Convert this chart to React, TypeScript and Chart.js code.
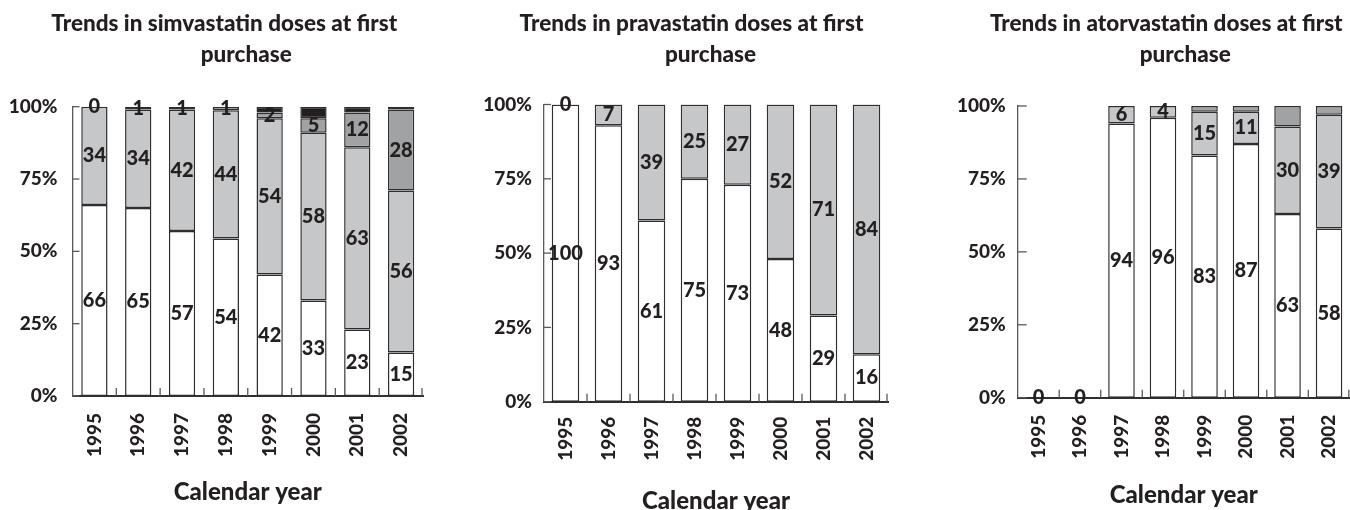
import React, { useEffect, useRef } from "react";
import { Chart, registerables } from "chart.js";

Chart.register(...registerables);

// ---------- data ----------
const years = ["1995", "1996", "1997", "1998", "1999", "2000", "2001", "2002"];
const yTickValues = [0, 25, 50, 75, 100];

// Simvastatin (bottom -> top)
const simWhite = [66, 65, 57, 54.4, 42, 33, 23, 15];
const simLight = [34, 34, 42, 44.4, 54, 58, 63, 56];
const simDark = [0, 1, 1, 1.2, 2, 5, 12, 28];
const simBlack = [0, 0, 0, 0, 2, 4, 2, 1];

// Pravastatin
const pravWhite = [100, 93, 61, 75, 73, 48, 29, 16];
const pravLight = [0, 7, 39, 25, 27, 52, 71, 84];

// Atorvastatin
const atorWhite = [0, 0, 94, 96, 83, 87, 63, 58];
const atorLight = [null, null, 6, 4, 15, 11, 30, 39];
const atorDark = [null, null, 0, 0, 2, 2, 7, 3];

const titles = [
  ["Trends in simvastatin doses at first", "purchase"],
  ["Trends in pravastatin doses at first", "purchase"],
  ["Trends in atorvastatin doses at first", "purchase"],
];
const xAxisTitle = "Calendar year";

// ---------- styles ----------
const WHITE = "#ffffff";
const LIGHT = "#c6c7c9";
const DARK = "#a1a2a4";
const BLACK = "#231f20";
const INK = "#231f20";
const EDGE = "#2e2e30";
const FONT = "Lato";
const WEIGHT = "900";

type Series = { data: (number | null)[]; color: string; showLabel: boolean };

type PanelCfg = {
  left: number;
  width: number;
  yw: number;
  pr: number;
  pt: number;
  xh: number;
  yTickPad: number;
  xTickPad: number;
  xTitlePad: number;
  yTickLen: number;
  barPct: number;
  dx1: number;
  dx2: number;
  title: string[];
  series: Series[];
};

const panels: PanelCfg[] = [
  {
    left: 0, width: 445, yw: 72.5, pr: 22, pt: 106.7, xh: 114,
    yTickPad: 15, xTickPad: 17, xTitlePad: 5.5, yTickLen: 7, barPct: 0.6,
    dx1: -23.5, dx2: -1.5, title: titles[0],
    series: [
      { data: simWhite, color: WHITE, showLabel: true },
      { data: simLight, color: LIGHT, showLabel: true },
      { data: simDark, color: DARK, showLabel: true },
      { data: simBlack, color: BLACK, showLabel: false },
    ],
  },
  {
    left: 460, width: 450, yw: 84, pr: 22, pt: 104.5, xh: 108.3,
    yTickPad: 12, xTickPad: 15, xTitlePad: -3.5, yTickLen: 7, barPct: 0.64,
    dx1: -24.5, dx2: -5.5, title: titles[1],
    series: [
      { data: pravWhite, color: WHITE, showLabel: true },
      { data: pravLight, color: LIGHT, showLabel: true },
    ],
  },
  {
    left: 930, width: 440, yw: 87.7, pr: 18.5, pt: 106, xh: 112.3,
    yTickPad: 12, xTickPad: 17, xTitlePad: 2.5, yTickLen: 9, barPct: 0.64,
    dx1: -17.5, dx2: 1.5, title: titles[2],
    series: [
      { data: atorWhite, color: WHITE, showLabel: true },
      { data: atorLight, color: LIGHT, showLabel: true },
      { data: atorDark, color: DARK, showLabel: false },
    ],
  },
];

// ---------- plugins ----------
const innerTicks = {
  id: "innerTicks",
  beforeDatasetsDraw(chart: any, _a: any, opts: any) {
    const { ctx, chartArea, scales } = chart;
    const x = scales.x;
    const y = scales.y;
    ctx.save();
    ctx.strokeStyle = "#58595b";
    ctx.lineWidth = 1.3;
    y.ticks.forEach((_t: any, i: number) => {
      const py = y.getPixelForTick(i);
      ctx.beginPath();
      ctx.moveTo(chartArea.left, py);
      ctx.lineTo(chartArea.left + (opts.yLen || 7), py);
      ctx.stroke();
    });
    const n = x.ticks.length;
    for (let i = 1; i <= n; i++) {
      const px = i < n ? (x.getPixelForTick(i - 1) + x.getPixelForTick(i)) / 2 : chartArea.right - 1;
      ctx.beginPath();
      ctx.moveTo(px, chartArea.bottom);
      ctx.lineTo(px, chartArea.bottom - 8);
      ctx.stroke();
    }
    ctx.restore();
  },
};

const segLabels = {
  id: "segLabels",
  afterDatasetsDraw(chart: any) {
    const { ctx } = chart;
    ctx.save();
    ctx.font = `${WEIGHT} 20px ${FONT}`;
    ctx.fillStyle = INK;
    ctx.textAlign = "center";
    ctx.textBaseline = "middle";
    chart.data.datasets.forEach((ds: any, di: number) => {
      if (!ds.showLabel) return;
      const meta = chart.getDatasetMeta(di);
      meta.data.forEach((el: any, i: number) => {
        const v = ds.data[i];
        if (v === null || v === undefined) return;
        const p = el.getProps(["x", "y", "base"], true);
        ctx.fillText(String(Math.round(v)), p.x, (p.y + p.base) / 2);
      });
    });
    ctx.restore();
  },
};

const twoLineTitle = {
  id: "twoLineTitle",
  afterDraw(chart: any, _a: any, opts: any) {
    const { ctx, chartArea } = chart;
    const cx = (chartArea.left + chartArea.right) / 2;
    ctx.save();
    ctx.font = `${WEIGHT} 22.5px ${FONT}`;
    ctx.fillStyle = INK;
    ctx.textAlign = "center";
    ctx.textBaseline = "alphabetic";
    ctx.fillText(opts.line1, cx + opts.dx1, 30.5);
    ctx.fillText(opts.line2, cx + opts.dx2, 61.7);
    ctx.restore();
  },
};

function Panel({ cfg }: { cfg: PanelCfg }) {
  const ref = useRef<HTMLCanvasElement | null>(null);
  useEffect(() => {
    if (!ref.current) return;
    const chart = new Chart(ref.current, {
      type: "bar",
      data: {
        labels: years,
        datasets: cfg.series.map((s) => ({
          data: s.data as any,
          backgroundColor: s.color,
          borderColor: EDGE,
          borderWidth: 1.5,
          borderSkipped: false,
          barPercentage: cfg.barPct,
          categoryPercentage: 1,
          showLabel: s.showLabel,
        })) as any,
      },
      options: {
        animation: false,
        responsive: false,
        devicePixelRatio: 1,
        layout: { padding: { left: 0, right: cfg.pr, top: cfg.pt, bottom: 0 } },
        plugins: {
          legend: { display: false },
          tooltip: { enabled: false },
          innerTicks: { yLen: cfg.yTickLen },
          twoLineTitle: { line1: cfg.title[0], line2: cfg.title[1], dx1: cfg.dx1, dx2: cfg.dx2 },
        } as any,
        scales: {
          x: {
            stacked: true,
            grid: { display: false, drawTicks: false },
            border: { display: true, color: "#2f2f31", width: 2 },
            ticks: {
              maxRotation: 90,
              minRotation: 90,
              padding: cfg.xTickPad,
              color: INK,
              font: { family: FONT, weight: WEIGHT as any, size: 19 },
            },
            title: {
              display: true,
              text: xAxisTitle,
              color: INK,
              font: { family: FONT, weight: WEIGHT as any, size: 24, lineHeight: 1 },
              padding: { top: 0, bottom: cfg.xTitlePad },
            },
            afterFit: (scale: any) => {
              scale.height = cfg.xh;
            },
          },
          y: {
            stacked: true,
            min: 0,
            max: 100,
            afterBuildTicks: (scale: any) => {
              scale.ticks = yTickValues.map((v) => ({ value: v }));
            },
            grid: { display: false, drawTicks: false },
            border: { display: true, color: "#58595b", width: 1.3 },
            ticks: {
              padding: cfg.yTickPad,
              color: INK,
              font: { family: FONT, weight: WEIGHT as any, size: 19 },
              callback: (v: any) => `${v}%`,
            },
            afterFit: (scale: any) => {
              scale.width = cfg.yw;
            },
          },
        },
      },
      plugins: [innerTicks, segLabels, twoLineTitle],
    });
    return () => chart.destroy();
  }, [cfg]);
  return (
    <canvas
      ref={ref}
      width={cfg.width}
      height={510}
      style={{ position: "absolute", left: cfg.left, top: 0, width: cfg.width, height: 510 }}
    />
  );
}

export default function App() {
  return (
    <div
      style={{
        position: "fixed",
        left: 0,
        top: 0,
        width: 1350,
        height: 510,
        overflow: "hidden",
        background: "#ffffff",
      }}
    >
      {panels.map((p, i) => (
        <Panel key={i} cfg={p} />
      ))}
    </div>
  );
}
